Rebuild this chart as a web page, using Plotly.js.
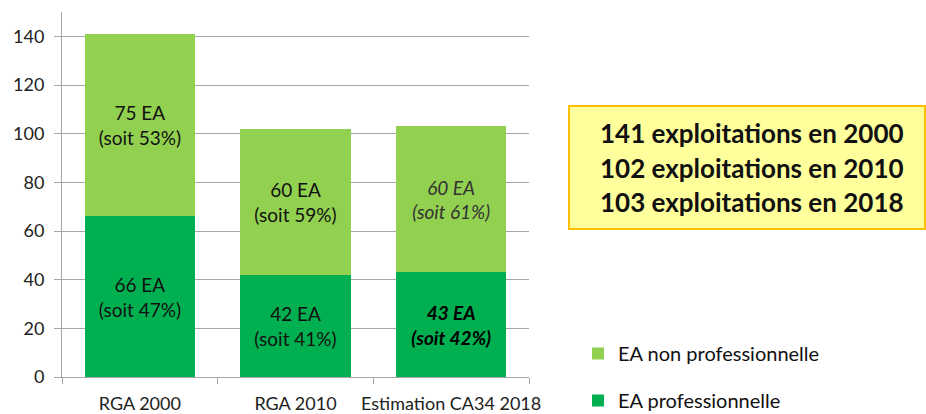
<!DOCTYPE html>
<html><head><meta charset="utf-8">
<script src="https://cdn.plot.ly/plotly-3.0.1.min.js"></script>
<style>html,body{margin:0;padding:0;background:#fff}#chart{width:926px;height:414px}</style>
</head><body><div id="chart"></div>
<script>
const categories = ['RGA 2000', 'RGA 2010', 'Estimation CA34 2018'];
const proValues = [66, 42, 43];
const nonProValues = [75, 60, 60];
const proPct = [47, 41, 42];
const nonProPct = [53, 59, 61];
const totals = [141, 102, 103];
const years = [2000, 2010, 2018];
const seriesNames = ['EA professionnelle', 'EA non professionnelle'];

const FONT = 'Lato, "Open Sans", sans-serif';

function label(v, p, i, bold) {
  const base = v + ' EA<br>(soit ' + p + '%)';
  if (i === 2) {
    return bold ? '<b><i>' + base.replace('<br>', '</i></b><br><b><i>') + '</i></b>'
                : '<i>' + base.replace('<br>', '</i><br><i>') + '</i>';
  }
  return base;
}

const proText = proValues.map((v, i) => label(v, proPct[i], i, true));
const nonProText = nonProValues.map((v, i) => label(v, nonProPct[i], i, false));

const traces = [
  {
    type: 'bar', name: seriesNames[0], x: categories, y: proValues,
    marker: {color: '#00B050'}, text: proText, textposition: 'inside',
    insidetextanchor: 'middle', textangle: 0, legendgroup: 'a', legendrank: 2,
    textfont: {family: FONT, size: 19, color: ['#111', '#111', '#000']},
    hoverinfo: 'none'
  },
  {
    type: 'bar', name: seriesNames[1], x: categories, y: nonProValues,
    marker: {color: '#92D050'}, text: nonProText, textposition: 'inside',
    insidetextanchor: 'middle', textangle: 0, legendgroup: 'b', legendrank: 1,
    textfont: {family: FONT, size: 19, color: ['#111', '#111', '#333333']},
    hoverinfo: 'none'
  }
];

const pl = 62, pr = 529, pt = 12, pb = 377;
const pw = pr - pl, ph = pb - pt;
const px = v => (v - pl) / pw;
const py = v => (pb - v) / ph;

const annotations = totals.map((t, i) => ({
  xref: 'paper', yref: 'paper', x: px(752), y: py(133 + i * 34.5),
  xanchor: 'center', yanchor: 'middle', showarrow: false,
  text: '<b>' + t + ' exploitations en ' + years[i] + '</b>',
  font: {family: FONT, size: 26, color: '#111'}
}));

const layout = {
  width: 926, height: 414,
  margin: {l: pl, r: 926 - pr, t: pt, b: 414 - pb, autoexpand: false},
  paper_bgcolor: '#fff', plot_bgcolor: '#fff',
  barmode: 'stack', bargap: 0.293,
  font: {family: FONT, size: 16, color: '#222'},
  xaxis: {
    type: 'category', tickson: 'boundaries', ticks: 'outside', ticklen: 6,
    tickcolor: '#a6a6a6', showline: true, linecolor: '#a6a6a6', linewidth: 1,
    showgrid: false, tickangle: 0, automargin: false, ticklabelstandoff: 10,
    tickfont: {family: FONT, size: 18, color: '#222'}, fixedrange: true
  },
  yaxis: {
    range: [0, 150], dtick: 20, tick0: 0, ticks: 'outside', ticklen: 7,
    tickcolor: '#a6a6a6', showline: true, linecolor: '#a6a6a6', linewidth: 1,
    showgrid: true, gridcolor: '#a6a6a6', gridwidth: 1, zeroline: false,
    automargin: false, ticklabelstandoff: 6,
    tickfont: {family: FONT, size: 18, color: '#222'}, fixedrange: true
  },
  showlegend: true,
  legend: {
    x: px(578), y: py(334), xanchor: 'left', yanchor: 'top',
    traceorder: 'grouped', tracegroupgap: 18,
    font: {family: FONT, size: 20, color: '#111'}, bgcolor: 'rgba(0,0,0,0)'
  },
  shapes: [{
    type: 'rect', xref: 'paper', yref: 'paper',
    x0: px(569), x1: px(925), y0: py(229), y1: py(106),
    fillcolor: '#FFFF9C', line: {color: '#FFC000', width: 2}, layer: 'below'
  }],
  annotations: annotations
};

Plotly.newPlot('chart', traces, layout, {displayModeBar: false, staticPlot: true});
</script></body></html>
